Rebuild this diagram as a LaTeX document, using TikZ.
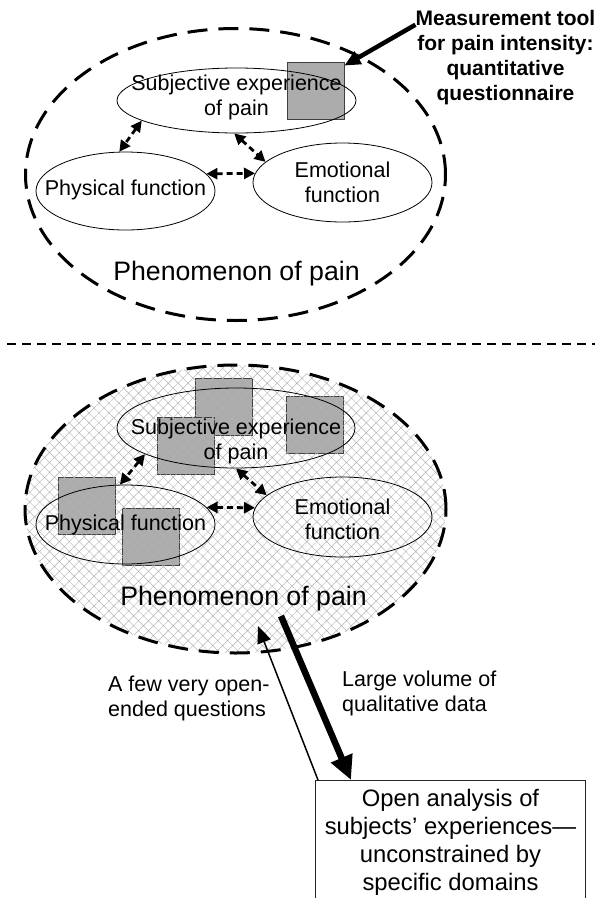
\documentclass[tikz,border=0pt]{standalone}
\usepackage{fontspec}
\setmainfont{Liberation Sans}
\usetikzlibrary{arrows.meta,shapes.geometric,patterns.meta}

\begin{document}
\begin{tikzpicture}[
    x=1pt, y=-1pt,
    every node/.style={font=\fontsize{21.5}{25}\selectfont, inner sep=0pt},
    oval/.style={ellipse, draw=black, line width=0.8pt},
    ovaltext/.style={align=center},
    whole/.style={ellipse, draw=black, line width=3pt, dash pattern=on 20pt off 11pt},
    hatched/.style={pattern={Hatch[angle=45,distance=7pt,line width=0.45pt]}, pattern color=gray!60},
    phenom/.style={font=\fontsize{26.7}{30}\selectfont},
    probe/.style={fill=gray!65, draw=black!75, line width=0.8pt, minimum size=57pt},
    link/.style={line width=2.8pt, dash pattern=on 6pt off 4pt,
      {Triangle[length=11pt,width=11pt]}-{Triangle[length=11pt,width=11pt]}},
    cut/.style={line width=2.7pt, dash pattern=on 9pt off 6pt},
    tooltext/.style={font=\bfseries\fontsize{21}{25}\selectfont, align=center},
    toolarrow/.style={line width=4.5pt, -{Triangle[length=16pt,width=14pt]}},
    notetext/.style={align=left, anchor=west},
    askarrow/.style={line width=1.5pt, -{Triangle[length=17pt,width=14pt]}},
    dataarrow/.style={line width=6.5pt, -{Triangle[length=24pt,width=22pt]}},
    report/.style={draw=black!85, line width=1pt, align=center, minimum width=270pt,
      inner ysep=8.5pt, font=\fontsize{23.8}{28}\selectfont}
]
\useasboundingbox (0,0) rectangle (595,898);
\clip (0,0) rectangle (595,898);

\node[whole, minimum width=420pt, minimum height=292pt] (wholeA) at (235.5,174.5) {};
\node[probe] (sqA) at (315.5,90.5) {};
\node[oval, minimum width=239pt, minimum height=65pt] (subjA) at (236.5,100.5) {};
\node[oval, minimum width=179pt, minimum height=78pt] (physA) at (125.5,191) {};
\node[oval, minimum width=179pt, minimum height=79pt] (emoA) at (342.5,182.5) {};
\node[ovaltext] (subjAtxt) at (236.5,97.5) {Subjective experience\\of pain};
\node[ovaltext] (physAtxt) at (125.5,190) {Physical function};
\node[ovaltext] (emoAtxt) at (342.5,182) {Emotional\\function};
\node[phenom] (phenA) at (236.5,274) {Phenomenon of pain};
\draw[link] (subjA.192) -- (physA.99);
\draw[link] (subjA.266) -- (emoA.165);
\draw[link] (physA.12) -- (emoA.174);

\node[tooltext] (meas) at (505.5,57.5) {Measurement tool\\for pain intensity:\\quantitative\\questionnaire};
\draw[toolarrow] (meas.160) -- ([yshift=-4pt]sqA.north east);

\coordinate (cutL) at (7,344);
\coordinate (cutR) at (595,344);
\draw[cut] (cutL) -- (cutR);

\foreach \px/\py [count=\k] in {224/407, 186/446, 315/425, 86.5/505.5, 151/537}
  \node[probe] (sqB\k) at (\px,\py) {};
\node[whole, hatched, minimum width=421pt, minimum height=288pt] (wholeB) at (235.5,509) {};
\node[oval, minimum width=238pt, minimum height=80pt] (subjB) at (236,428) {};
\node[oval, minimum width=179pt, minimum height=79pt] (physB) at (125.5,524.5) {};
\node[oval, minimum width=179pt, minimum height=80pt] (emoB) at (342.5,517) {};
\node[ovaltext] (subjBtxt) at (236,441.5) {Subjective experience\\of pain};
\node[ovaltext] (physBtxt) at (125.5,525) {Physical function};
\node[ovaltext] (emoBtxt) at (342.5,519) {Emotional\\function};
\node[phenom] (phenB) at (243.5,599) {Phenomenon of pain};
\draw[link] (subjB.196) -- (physB.98);
\draw[link] (subjB.270) -- (emoB.164);
\draw[link] (physB.12) -- (emoB.174);

\node[report, anchor=north west] (report) at (315,780)
  {Open analysis of\\subjects' experiences---\\unconstrained by\\specific domains};
\coordinate (askin) at (258,626);
\coordinate (dataout) at (281,616);
\draw[askarrow] ([xshift=3pt]report.north west) -- (askin);
\draw[dataarrow] (dataout) -- ([xshift=36pt]report.north west);
\node[notetext] (askq) at (108,698) {A few very open-\\ended questions};
\node[notetext] (bulk) at (342,693) {Large volume of\\qualitative data};

\end{tikzpicture}
\end{document}
